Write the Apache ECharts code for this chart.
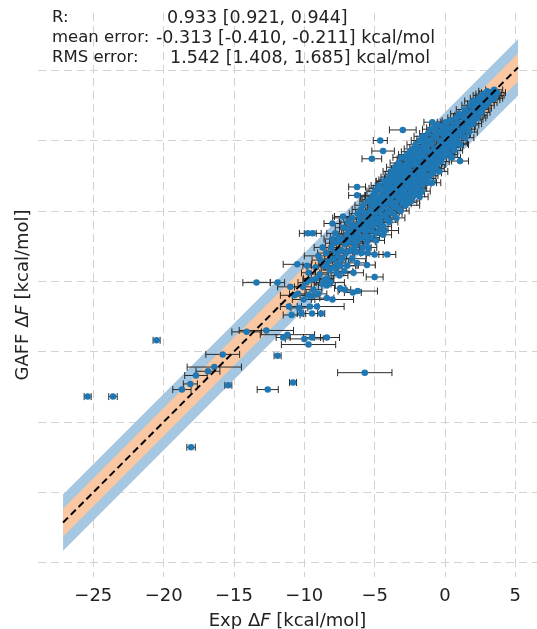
<!DOCTYPE html>
<html>
<head>
<meta charset="utf-8">
<script src="https://cdn.jsdelivr.net/npm/echarts@6/dist/echarts.min.js"></script>
<style>
  html, body { margin: 0; padding: 0; background: #fff; }
  #chart { width: 537px; height: 629px; }
</style>
</head>
<body>
<div id="chart"></div>
<script>
// each row: [exp dF, GAFF dF, exp uncertainty]  (kcal/mol)
const farOutliers = [
  [-25.4, -18.2, 0.25], [-23.6, -18.2, 0.3], [-20.5, -14.2, 0.25], [-18.7, -17.7, 0.65],
  [-18.1, -17.3, 0.5], [-18.05, -21.8, 0.3], [-17.7, -16.7, 0.8], [-16.85, -16.4, 0.85],
  [-16.4, -16.1, 1.93], [-15.8, -15.2, 1.2], [-15.4, -17.4, 0.25], [-14.1, -13.6, 1.05],
  [-13.4, -10.1, 0.97], [-12.7, -13.5, 1.93], [-12.6, -17.7, 0.75], [-11.9, -15.3, 0.25],
  [-11.9, -10.1, 0.5], [-11.5, -14.0, 0.5], [-11.2, -13.8, 1.93], [-10.8, -17.2, 0.25]
];
const lowerOutliers = [
  [-10.5, -8.8, 1.0], [-10.2, -12.3, 0.3], [-10.0, -14.1, 1.35], [-9.7, -14.5, 1.93],
  [-9.7, -9.4, 0.5], [-9.6, -11.8, 0.6], [-9.45, -12.3, 0.6], [-9.45, -14.0, 0.6],
  [-9.45, -11.05, 0.5], [-9.1, -11.8, 1.93], [-8.8, -12.3, 0.25], [-8.4, -14.0, 0.9],
  [-8.4, -11.2, 0.5], [-8.4, -10.3, 0.6], [-8.4, -9.8, 0.5], [-8.0, -11.3, 1.5],
  [-7.7, -9.4, 1.2], [-7.45, -10.5, 0.4], [-7.1, -10.6, 0.4], [-6.55, -10.8, 0.6],
  [-6.5, -9.4, 0.7], [-6.2, -10.7, 1.4], [-6.25, -8.7, 0.6], [-5.7, -16.5, 1.93],
  [-5.55, -8.85, 0.6], [-5.5, -8.0, 0.5], [-5.0, -9.7, 0.6], [-5.0, -8.1, 0.6],
  [-4.1, -8.1, 0.6], [-4.4, -6.7, 0.6], [-11.0, -10.4, 0.9]
];
const edgeOutliers = [
  [-9.4, -6.6, 0.6], [-9.75, -6.6, 0.6], [-8.0, -5.9, 0.6], [-7.25, -5.4, 0.6],
  [-6.25, -3.3, 0.6], [-6.25, -3.9, 0.6], [-5.2, -1.3, 0.7], [-4.6, 0.0, 0.5],
  [-4.4, -0.75, 0.8], [-3.0, 0.75, 0.95], [1.07, -1.46, 0.6], [1.07, -0.3, 0.6],
  [-0.9, -3.0, 0.6], [-0.85, -2.3, 0.6], [-1.8, -4.0, 0.6], [-0.9, 1.3, 0.6]
];
const coreLow = [
  [-11.1, -11.8, 0.6], [-10.9, -12.4, 0.6], [-10.7, -11.0, 1.0], [-10.45, -10.9, 0.6], [-10.35, -11.9, 0.6],
  [-10.1, -10.4, 0.6], [-10.05, -11.3, 0.8], [-9.85, -10.1, 0.6], [-9.8, -8.9, 0.3], [-9.7, -11.0, 0.6],
  [-9.5, -9.9, 0.6], [-9.35, -10.6, 0.6], [-9.2, -9.0, 0.6], [-9.15, -9.8, 0.9], [-9.0, -10.9, 0.6],
  [-8.9, -9.5, 0.6], [-8.85, -8.5, 0.6], [-8.7, -10.2, 0.6], [-8.6, -8.9, 0.6], [-8.55, -9.9, 0.6],
  [-8.45, -8.0, 0.6], [-8.3, -8.6, 0.6], [-8.2, -9.2, 0.6], [-8.1, -7.6, 0.6], [-7.95, -8.4, 0.6],
  [-7.9, -9.0, 0.6], [-7.85, -7.9, 0.6], [-7.7, -7.9, 0.6], [-7.65, -8.7, 0.6], [-7.6, -7.2, 0.6],
  [-7.5, -9.6, 0.6], [-7.4, -7.8, 0.6], [-7.35, -7.0, 0.6], [-7.3, -8.4, 0.6], [-7.1, -7.4, 0.6],
  [-7.05, -8.0, 0.6], [-7.0, -6.7, 0.6], [-6.95, -8.9, 0.6], [-6.8, -7.2, 0.6], [-6.75, -6.4, 0.6],
  [-6.7, -7.8, 0.6], [-6.65, -6.9, 0.6], [-6.5, -6.8, 0.6], [-6.45, -7.3, 0.6], [-6.4, -6.1, 0.6],
  [-6.35, -7.9, 0.6], [-6.3, -6.6, 0.6], [-6.2, -6.5, 0.6], [-6.15, -7.0, 0.6], [-6.1, -5.9, 0.6]
];
const coreMid = [
  [-6.0, -6.3, 0.6], [-5.95, -6.9, 0.6], [-5.9, -5.6, 0.6], [-5.85, -7.6, 0.6], [-5.7, -6.0, 0.6],
  [-5.65, -6.5, 0.6], [-5.6, -5.3, 0.6], [-5.55, -7.2, 0.6], [-5.5, -5.9, 0.6], [-5.4, -5.7, 0.6],
  [-5.35, -6.3, 0.6], [-5.3, -5.0, 0.6], [-5.25, -6.9, 0.6], [-5.2, -4.6, 0.6], [-5.15, -5.6, 0.6],
  [-5.1, -6.0, 0.6], [-5.05, -4.8, 0.6], [-5.0, -5.3, 0.6], [-4.95, -5.9, 0.6], [-4.9, -4.6, 0.6],
  [-4.85, -6.6, 0.6], [-4.8, -5.1, 0.6], [-4.75, -5.6, 0.6], [-4.7, -4.4, 0.6], [-4.65, -6.3, 0.6],
  [-4.6, -4.0, 0.6], [-4.55, -4.9, 0.6], [-4.5, -5.4, 0.6], [-4.45, -4.2, 0.6], [-4.4, -6.1, 0.6],
  [-4.35, -3.6, 0.6], [-4.3, -4.7, 0.6], [-4.25, -5.3, 0.6], [-4.2, -4.0, 0.6], [-4.15, -3.5, 0.6],
  [-4.1, -4.5, 0.6], [-4.05, -5.0, 0.6], [-4.0, -3.8, 0.6], [-3.95, -5.8, 0.6], [-3.9, -4.3, 0.6],
  [-3.85, -3.3, 0.6], [-3.8, -4.0, 0.6], [-3.75, -4.6, 0.6], [-3.7, -3.4, 0.6], [-3.65, -5.2, 0.6],
  [-3.6, -3.9, 0.6], [-3.55, -2.9, 0.6], [-3.5, -4.4, 0.6], [-3.45, -3.2, 0.6], [-3.4, -3.7, 0.6],
  [-3.35, -4.8, 0.6], [-3.3, -3.0, 0.6], [-3.25, -3.5, 0.6], [-3.2, -4.2, 0.6], [-3.15, -2.4, 0.6],
  [-3.1, -3.3, 0.6], [-3.05, -3.8, 0.6], [-3.0, -2.8, 0.6], [-3.0, -4.5, 0.6], [-2.95, -3.1, 0.6]
];
const coreHigh = [
  [-2.9, -3.6, 0.6], [-2.85, -2.2, 0.6], [-2.8, -3.1, 0.6], [-2.75, -4.0, 0.6], [-2.7, -2.6, 0.6],
  [-2.65, -3.3, 0.6], [-2.6, -2.0, 0.6], [-2.55, -2.9, 0.6], [-2.5, -3.8, 0.6], [-2.45, -2.4, 0.6],
  [-2.4, -3.2, 0.6], [-2.35, -1.7, 0.6], [-2.3, -2.7, 0.6], [-2.25, -3.5, 0.6], [-2.2, -2.2, 0.6],
  [-2.15, -3.0, 0.6], [-2.1, -1.6, 0.6], [-2.05, -2.5, 0.6], [-2.0, -3.3, 0.6], [-1.95, -1.9, 0.6],
  [-1.9, -2.3, 0.6], [-1.85, -2.9, 0.6], [-1.8, -1.4, 0.6], [-1.75, -2.1, 0.6], [-1.7, -2.6, 0.6],
  [-1.65, -1.6, 0.6], [-1.6, -3.1, 0.6], [-1.55, -1.9, 0.6], [-1.5, -1.1, 0.6], [-1.45, -2.4, 0.6],
  [-1.4, -1.7, 0.6], [-1.35, -2.0, 0.6], [-1.3, -1.3, 0.6], [-1.25, -2.7, 0.6], [-1.2, -1.5, 0.6],
  [-1.15, -0.8, 0.6], [-1.1, -2.0, 0.6], [-1.05, -1.4, 0.6], [-1.0, -1.8, 0.6], [-0.95, -0.9, 0.6],
  [-0.9, -1.2, 0.6], [-0.8, -1.6, 0.6], [-0.75, -0.6, 0.6], [-0.7, -1.1, 0.6], [-0.65, -2.0, 0.6],
  [-0.6, -0.8, 0.6], [-0.5, -1.3, 0.6], [-0.45, -0.4, 0.6], [-0.4, -0.9, 0.6], [-0.3, -1.5, 0.6],
  [-0.25, -0.5, 0.6], [-0.2, -0.1, 0.6], [-0.1, -0.8, 0.6], [-0.05, -1.1, 0.6], [0.0, -0.3, 0.6]
];
const corePositive = [
  [0.1, 0.2, 0.6], [0.15, -0.6, 0.6], [0.2, -0.1, 0.6], [0.3, -1.0, 0.6], [0.35, 0.4, 0.6],
  [0.4, 0.0, 0.6], [0.5, -0.5, 0.6], [0.55, 0.6, 0.6], [0.6, 0.2, 0.6], [0.7, -0.3, 0.6],
  [0.75, 0.9, 0.6], [0.8, 0.4, 0.6], [0.9, 0.0, 0.6], [1.0, 0.7, 0.6], [1.1, 1.2, 0.6],
  [1.2, 0.5, 0.6], [1.3, 0.9, 0.6], [1.4, 1.5, 0.6], [1.5, 0.8, 0.6], [1.6, 1.3, 0.6],
  [1.7, 1.8, 0.6], [1.8, 1.1, 0.6], [1.9, 1.6, 0.6], [2.0, 2.1, 0.6], [2.1, 1.5, 0.6],
  [2.2, 1.9, 0.6], [2.3, 2.4, 0.6], [2.4, 1.8, 0.6], [2.5, 2.2, 0.6], [2.6, 2.6, 0.6],
  [2.7, 2.3, 0.6], [2.8, 2.9, 0.6], [2.9, 2.5, 0.6], [3.0, 3.0, 0.6], [3.1, 2.7, 0.6],
  [3.2, 3.2, 0.6], [3.3, 2.9, 0.6], [3.4, 3.3, 0.6], [3.5, 3.0, 0.6]
];
const coreUpper = [
  [-8.0, -7.0, 0.6], [-7.8, -6.6, 0.6], [-7.6, -8.2, 0.6], [-7.2, -6.2, 0.6], [-7.0, -7.9, 0.6],
  [-6.9, -5.8, 0.6], [-6.6, -5.5, 0.6], [-6.4, -7.5, 0.6], [-6.2, -5.2, 0.6], [-6.0, -4.9, 0.6],
  [-5.8, -4.6, 0.6], [-5.6, -6.8, 0.6], [-5.45, -4.3, 0.6], [-5.3, -4.2, 0.6], [-5.1, -3.9, 0.6],
  [-4.95, -3.6, 0.6], [-4.8, -3.4, 0.6], [-4.65, -3.2, 0.6], [-4.5, -3.9, 0.6], [-4.3, -2.9, 0.6],
  [-4.1, -2.8, 0.6], [-3.95, -2.6, 0.6], [-3.8, -2.2, 0.6], [-3.7, -2.7, 0.6], [-3.55, -1.9, 0.6],
  [-3.4, -2.3, 0.6], [-3.3, -1.6, 0.6], [-3.2, -2.0, 0.6], [-3.1, -1.2, 0.6], [-2.95, -1.8, 0.6],
  [-2.8, -1.3, 0.6], [-2.7, -1.0, 0.6], [-2.6, -1.5, 0.6], [-2.5, -0.8, 0.6], [-2.4, -1.2, 0.6],
  [-2.3, -0.6, 0.6], [-2.2, -1.0, 0.6], [-2.1, -0.3, 0.6], [-2.0, -0.9, 0.6], [-1.9, -0.5, 0.6],
  [-1.8, 0.0, 0.6], [-1.7, -0.7, 0.6], [-1.6, 0.3, 0.6], [-1.5, -0.3, 0.6], [-1.4, 0.1, 0.6],
  [-1.3, -0.5, 0.6], [-1.2, 0.5, 0.6], [-1.1, 0.0, 0.6], [-1.0, 0.8, 0.6], [-0.8, 0.3, 0.6],
  [-0.7, 0.9, 0.6], [-0.6, 0.5, 0.6], [-0.5, 1.1, 0.6], [-0.35, 0.6, 0.6], [-0.2, 1.0, 0.6],
  [-0.1, 0.4, 0.6], [0.05, 1.3, 0.6], [0.2, 0.9, 0.6], [0.4, 1.4, 0.6], [0.6, 1.1, 0.6],
  [0.8, 1.6, 0.6], [1.0, 1.9, 0.6], [1.2, 1.7, 0.6], [1.4, 2.2, 0.6], [1.6, 2.0, 0.6],
  [1.8, 2.5, 0.6], [2.0, 2.8, 0.6], [2.2, 2.6, 0.6], [2.4, 3.0, 0.6], [2.6, 3.2, 0.6],
  [2.8, 3.3, 0.6], [3.0, 3.5, 0.6], [3.2, 3.4, 0.6], [3.5, 3.6, 0.6], [3.7, 3.4, 0.6],
  [3.6, 3.2, 0.6], [-2.4, -4.3, 0.6], [-1.2, -3.0, 0.6], [-0.4, -2.2, 0.6], [0.5, -1.2, 0.6]
];
const coreFill = [
  [-9.0, -8.2, 1.0], [-8.7, -7.6, 0.6], [-8.4, -8.9, 0.6], [-8.15, -10.1, 1.0], [-7.9, -7.3, 0.6],
  [-7.55, -6.9, 0.6], [-7.45, -8.9, 1.2], [-7.15, -9.3, 0.6], [-6.9, -6.3, 0.6], [-6.6, -8.4, 1.0],
  [-6.55, -6.0, 0.6], [-6.3, -7.2, 0.6], [-6.05, -5.5, 1.93], [-5.95, -8.0, 0.6], [-5.75, -5.1, 0.6],
  [-5.6, -6.2, 0.6], [-5.45, -7.6, 0.6], [-5.3, -5.5, 0.6], [-5.2, -6.4, 1.0], [-5.05, -4.3, 0.6],
  [-4.9, -7.1, 0.6], [-4.8, -4.0, 1.2], [-4.7, -5.0, 0.6], [-4.6, -5.8, 0.6], [-4.5, -3.5, 0.6],
  [-4.4, -4.5, 0.6], [-4.3, -6.4, 1.0], [-4.2, -3.1, 0.6], [-4.1, -5.6, 0.6], [-4.0, -4.1, 0.6],
  [-3.9, -2.9, 1.0], [-3.85, -5.1, 0.6], [-3.75, -3.7, 0.6], [-3.65, -2.4, 0.6], [-3.6, -4.7, 0.6],
  [-3.5, -3.6, 0.6], [-3.45, -5.5, 0.6], [-3.35, -2.7, 0.6], [-3.3, -4.0, 1.0], [-3.2, -3.2, 0.6],
  [-3.15, -5.0, 0.6], [-3.05, -2.1, 0.6], [-2.95, -4.1, 0.6], [-2.9, -2.6, 0.6], [-2.8, -4.6, 1.0],
  [-2.75, -1.8, 0.6], [-2.65, -2.9, 0.6], [-2.6, -4.4, 0.6], [-2.55, -1.4, 0.6], [-2.45, -3.5, 0.6],
  [-2.35, -2.5, 0.6], [-2.3, -4.0, 0.6], [-2.25, -1.3, 1.0], [-2.15, -2.7, 0.6], [-2.05, -3.8, 0.6],
  [-1.95, -1.2, 0.6], [-1.9, -3.4, 0.6], [-1.8, -2.5, 0.6], [-1.7, -1.0, 0.6], [-1.65, -3.6, 0.6],
  [-1.55, -2.2, 0.6], [-1.45, -0.7, 0.6], [-1.4, -2.9, 0.6], [-1.3, -1.9, 0.6], [-1.2, -0.3, 1.0],
  [-1.1, -2.5, 0.6], [-1.0, -1.2, 0.6], [-0.95, -0.2, 0.6], [-0.85, -1.9, 0.6], [-0.75, -1.0, 0.6],
  [-0.65, 0.2, 0.6], [-0.55, -1.7, 0.6], [-0.45, -0.8, 0.6], [-0.35, 0.0, 0.6], [-0.3, -1.1, 0.6],
  [-0.15, -0.6, 0.6], [-0.05, 0.7, 0.6], [0.1, -0.9, 0.6], [0.25, 0.5, 0.6], [0.35, -0.3, 0.6],
  [0.5, 0.9, 0.6], [0.65, -0.7, 0.6], [0.75, 0.2, 0.6], [0.9, 1.2, 0.6], [1.0, -0.2, 0.6],
  [1.15, 0.4, 0.6], [1.3, 1.8, 0.6], [1.45, 0.2, 0.6], [1.55, 1.0, 0.6], [1.7, 0.6, 0.6],
  [1.85, 2.0, 0.6], [2.0, 1.2, 0.6], [2.15, 2.3, 0.6], [2.3, 1.6, 0.6], [2.45, 2.7, 0.6],
  [2.6, 2.0, 0.6], [2.75, 3.1, 0.6], [2.9, 2.8, 0.6], [3.05, 3.3, 0.6], [3.3, 3.1, 0.6]
];

const bandEnds = [-27.15, 5.19];     // x extent of the y = x guide and bands
const bandWidths = [2, 1];           // +/- kcal/mol: outer (blue), inner (orange)
const xRange = [-28.93, 6.54];
const yRange = [-31.02, 9.06];
const statNames = ['R:', 'mean error:', 'RMS error:'];
const statValues = ['0.933 [0.921, 0.944]', '-0.313 [-0.410, -0.211] kcal/mol', '1.542 [1.408, 1.685] kcal/mol'];
const statValueX = [167, 156, 170];

const points = [].concat(farOutliers, lowerOutliers, edgeOutliers, coreLow, coreMid,
  coreHigh, corePositive, coreUpper, coreFill);

const chart = echarts.init(document.getElementById('chart'));

function bandItem(params, api) {
  const x0 = api.value(0), x1 = api.value(1), h = api.value(2);
  const pts = [[x0, x0 - h], [x1, x1 - h], [x1, x1 + h], [x0, x0 + h]].map(p => api.coord(p));
  return { type: 'polygon', shape: { points: pts }, style: { fill: api.visual('color') } };
}

function errItem(params, api) {
  const x = api.value(0), y = api.value(1), e = api.value(2);
  const a = api.coord([x - e, y]);
  const b = api.coord([x + e, y]);
  const cap = 3.5;
  const st = { stroke: '#2a2a2a', lineWidth: 1 };
  return {
    type: 'group',
    children: [
      { type: 'line', shape: { x1: a[0], y1: a[1], x2: b[0], y2: b[1] }, style: st },
      { type: 'line', shape: { x1: a[0], y1: a[1] - cap, x2: a[0], y2: a[1] + cap }, style: st },
      { type: 'line', shape: { x1: b[0], y1: b[1] - cap, x2: b[0], y2: b[1] + cap }, style: st }
    ]
  };
}

const fmt = v => String(v).replace('-', '\u2212');
const gridLine = { show: true, showMinLine: false, showMaxLine: false, lineStyle: { color: '#d2d2d2', type: [8, 5], width: 1 } };
const nameRich = { i: { fontStyle: 'italic', fontSize: 18, fontFamily: 'DejaVu Sans', color: '#222' } };

const graphics = [];
statNames.forEach((n, i) => {
  graphics.push({ type: 'text', left: 52, top: 9 + i * 20, z: 100,
    style: { text: n, font: '16.5px "DejaVu Sans"', fill: '#222' } });
  graphics.push({ type: 'text', left: statValueX[i], top: 9 + i * 20, z: 100,
    style: { text: statValues[i], font: '17.5px "DejaVu Sans"', fill: '#222' } });
});

chart.setOption({
  animation: false,
  grid: { left: 38, right: 0, top: 13, bottom: 52, outerBoundsMode: 'none' },
  graphic: graphics,
  xAxis: {
    type: 'value', min: xRange[0], max: xRange[1], minInterval: 5, maxInterval: 5,
    axisLine: { show: false }, axisTick: { show: false },
    axisLabel: { formatter: fmt, showMinLabel: false, showMaxLabel: false, fontSize: 18,
      fontFamily: 'DejaVu Sans', color: '#222', margin: 10 },
    splitLine: gridLine,
    name: 'Exp Δ{i|F} [kcal/mol]', nameLocation: 'middle', nameGap: 35,
    nameTextStyle: { fontSize: 18, fontFamily: 'DejaVu Sans', color: '#222', rich: nameRich }
  },
  yAxis: {
    type: 'value', min: yRange[0], max: yRange[1], minInterval: 5, maxInterval: 5,
    axisLine: { show: false }, axisTick: { show: false }, axisLabel: { show: false },
    splitLine: gridLine,
    name: 'GAFF Δ{i|F} [kcal/mol]', nameLocation: 'middle', nameGap: 6,
    nameTextStyle: { fontSize: 18, fontFamily: 'DejaVu Sans', color: '#222', rich: nameRich }
  },
  series: [
    { type: 'custom', z: 1, renderItem: bandItem, itemStyle: { color: '#a5c7e1' },
      encode: { x: [0, 1], y: 2 }, data: [[bandEnds[0], bandEnds[1], bandWidths[0]]], silent: true },
    { type: 'custom', z: 2, renderItem: bandItem, itemStyle: { color: '#f9c8a2' },
      encode: { x: [0, 1], y: 2 }, data: [[bandEnds[0], bandEnds[1], bandWidths[1]]], silent: true },
    { type: 'custom', z: 3, renderItem: errItem, encode: { x: 0, y: 1 }, data: points, silent: true },
    { type: 'scatter', z: 4, symbol: 'circle', symbolSize: 6.5, itemStyle: { color: '#1f77b4', opacity: 1 },
      data: points.map(p => [p[0], p[1]]) },
    { type: 'line', z: 5, symbol: 'none', silent: true,
      lineStyle: { color: '#000', width: 2, type: [7, 4] },
      data: [[bandEnds[0], bandEnds[0]], [bandEnds[1], bandEnds[1]]] }
  ]
});
</script>
</body>
</html>
